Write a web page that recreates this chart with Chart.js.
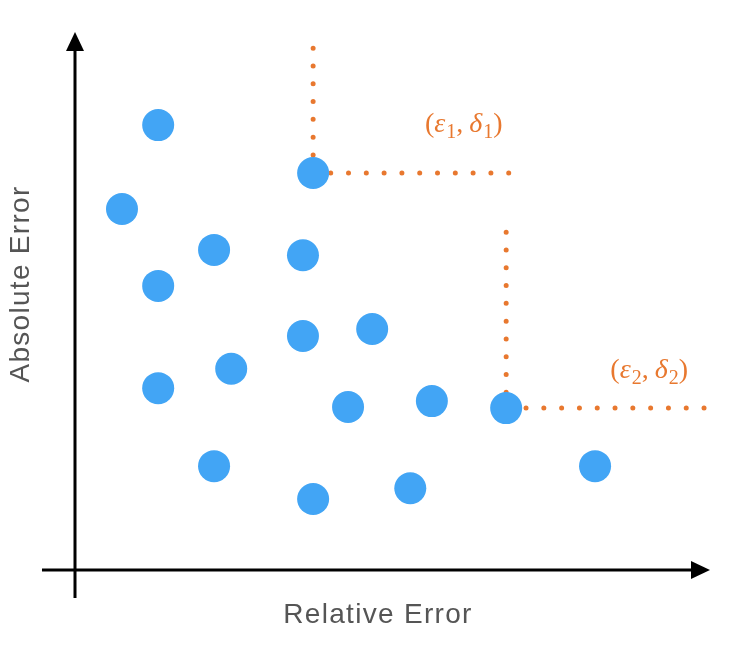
<!DOCTYPE html>
<html>
<head>
<meta charset="utf-8">
<script src="https://cdn.jsdelivr.net/npm/chart.js@4/dist/chart.umd.min.js"></script>
<style>
html,body{margin:0;padding:0;background:#fff;}
#wrap{width:752px;height:660px;position:relative;}
</style>
</head>
<body>
<div id="wrap"><canvas id="c"></canvas></div>
<script>
// Scatter points (relative error, absolute error) in abstract units 0..10
const relErr = [1.31, 0.74, 2.19, 3.59, 1.31, 3.75, 3.59, 4.68, 1.31, 2.46, 4.30, 5.62, 6.79, 2.19, 3.75, 5.28, 8.19];
const absErr = [8.27, 6.71, 5.95, 5.85, 5.28, 7.38, 4.35, 4.48, 3.38, 3.74, 3.03, 3.14, 3.01, 1.93, 1.32, 1.52, 1.93];

// Dotted guide for (eps1, delta1)
const guide1X = [3.75, 3.75, 6.85];
const guide1Y = [9.70, 7.38, 7.38];
// Dotted guide for (eps2, delta2)
const guide2X = [6.79, 6.79, 9.92];
const guide2Y = [6.28, 3.01, 3.01];

// Annotation labels: [symbol, subscript, symbol, subscript], anchor
const labelNames = [["\u03b5","1","\u03b4","1"], ["\u03b5","2","\u03b4","2"]];
const labelX = [5.51, 8.43];
const labelY = [8.14, 3.57];

const xTitle = "Relative Error";
const yTitle = "Absolute Error";

const BLUE = "#42A5F5";
const ORANGE = "#E8782F";

const pts = relErr.map((x,i)=>({x:x,y:absErr[i]}));
const g1 = guide1X.map((x,i)=>({x:x,y:guide1Y[i]}));
const g2 = guide2X.map((x,i)=>({x:x,y:guide2Y[i]}));

const decor = {
  id:'decor',
  beforeDatasetsDraw(chart){
    const ctx = chart.ctx, xs = chart.scales.x, ys = chart.scales.y;
    const x0 = xs.getPixelForValue(0), y0 = ys.getPixelForValue(0);
    const xEnd = xs.getPixelForValue(10), yEnd = ys.getPixelForValue(10);
    ctx.save();
    ctx.strokeStyle = '#000'; ctx.fillStyle = '#000'; ctx.lineWidth = 3;
    ctx.beginPath();
    ctx.moveTo(xs.getPixelForValue(-0.52), y0); ctx.lineTo(xEnd - 12, y0);
    ctx.moveTo(x0, ys.getPixelForValue(-0.52)); ctx.lineTo(x0, yEnd + 12);
    ctx.stroke();
    // arrowheads
    ctx.beginPath();
    ctx.moveTo(xEnd, y0); ctx.lineTo(xEnd - 19, y0 - 9); ctx.lineTo(xEnd - 19, y0 + 9); ctx.closePath();
    ctx.fill();
    ctx.beginPath();
    ctx.moveTo(x0, yEnd); ctx.lineTo(x0 - 9, yEnd + 19); ctx.lineTo(x0 + 9, yEnd + 19); ctx.closePath();
    ctx.fill();
    // axis titles
    ctx.fillStyle = '#555';
    ctx.font = '28px "Liberation Sans", Arial, sans-serif';
    ctx.letterSpacing = '1.3px';
    ctx.textAlign = 'center'; ctx.textBaseline = 'alphabetic';
    ctx.fillText(xTitle, 378, 623);
    ctx.save();
    ctx.translate(29, 284); ctx.rotate(-Math.PI/2);
    ctx.fillText(yTitle, 0, 0);
    ctx.restore();
    ctx.letterSpacing = '0px';
    ctx.restore();
  },
  afterDatasetsDraw(chart){
    const ctx = chart.ctx, xs = chart.scales.x, ys = chart.scales.y;
    ctx.save();
    ctx.fillStyle = ORANGE; ctx.textBaseline = 'alphabetic'; ctx.textAlign = 'left';
    const big = '28px "Liberation Serif", "DejaVu Serif", serif';
    const ital = 'italic 28px "Liberation Serif", "DejaVu Serif", serif';
    const sub = '20px "Liberation Serif", "DejaVu Serif", serif';
    labelNames.forEach((nm,i)=>{
      let x = xs.getPixelForValue(labelX[i]);
      const y = ys.getPixelForValue(labelY[i]);
      const parts = [[big,"(",0,0],[ital,nm[0],0,1],[sub,nm[1],6,0],[big,", ",0,-1],[ital,nm[2],0,1],[sub,nm[3],6,0],[big,")",0,0]];
      parts.forEach(p=>{
        ctx.font = p[0];
        ctx.fillText(p[1], x, y + p[2]);
        x += ctx.measureText(p[1]).width + p[3];
      });
    });
    ctx.restore();
  }
};

new Chart(document.getElementById('c'), {
  type:'scatter',
  data:{
    datasets:[
      {data:g1, showLine:true, borderColor:ORANGE, borderWidth:5, borderDash:[0,17.8], borderCapStyle:'round', pointRadius:0, fill:false, order:2},
      {data:g2, showLine:true, borderColor:ORANGE, borderWidth:5, borderDash:[0,17.8], borderCapStyle:'round', pointRadius:0, fill:false, order:2},
      {data:pts, backgroundColor:BLUE, borderColor:BLUE, pointRadius:16, pointHoverRadius:16, borderWidth:0, order:1}
    ]
  },
  options:{
    responsive:true, maintainAspectRatio:false, animation:false,
    layout:{padding:{left:75, right:42, top:32, bottom:90}},
    plugins:{legend:{display:false}, tooltip:{enabled:false}},
    events:[],
    scales:{
      x:{type:'linear', min:0, max:10, display:false},
      y:{type:'linear', min:0, max:10, display:false}
    },
    clip:false
  },
  plugins:[decor]
});
</script>
</body>
</html>
